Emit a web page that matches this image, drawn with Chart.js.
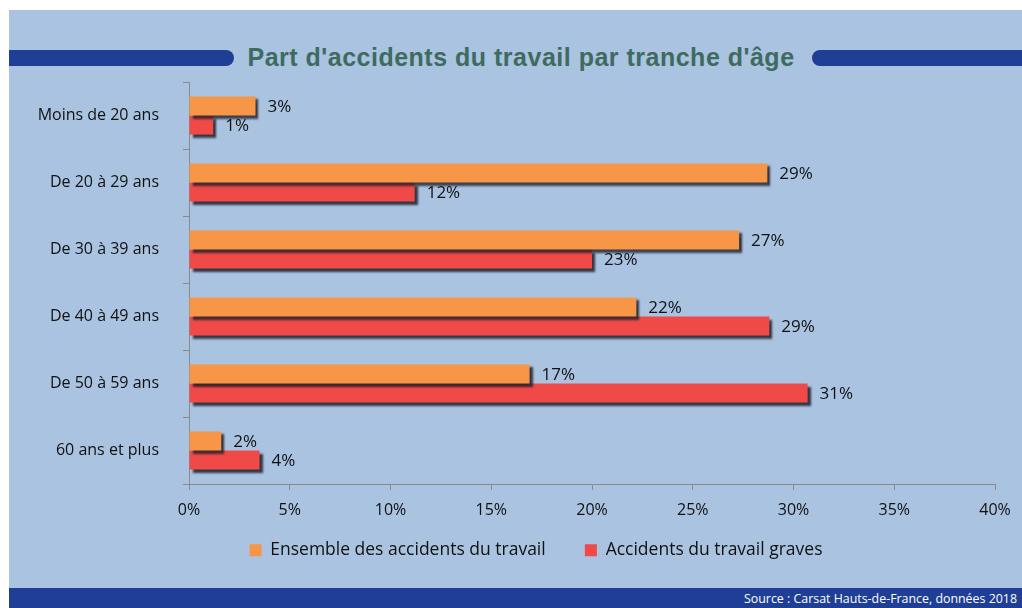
<!DOCTYPE html>
<html lang="fr">
<head>
<meta charset="utf-8">
<title>Part d'accidents du travail par tranche d'âge</title>
<script src="https://cdn.jsdelivr.net/npm/chart.js@4/dist/chart.umd.min.js"></script>
<style>
  html, body { margin: 0; padding: 0; background: #fff; }
  body { width: 1022px; height: 608px; position: relative; overflow: hidden; font-family: "Open Sans", sans-serif; }
  .panel { position: absolute; left: 9px; top: 10px; right: 0; bottom: 0; background: #a9c3e1; }
  .pill { position: absolute; top: 50px; height: 16px; background: #1f3f96; }
  .pill.left { left: 9px; width: 225px; border-radius: 0 8px 8px 0; }
  .pill.right { left: 812px; right: 0; border-radius: 8px 0 0 8px; }
  .title { position: absolute; top: 43px; left: 236px; width: 570px; text-align: center; letter-spacing: 0.5px;
           font-family: "Liberation Sans", Arial, sans-serif; font-weight: bold; font-size: 25px; color: #3f6b5f; }
  /* la zone déborde à droite (coupée par le body) pour centrer la légende comme l'original */
  .chart-box { position: absolute; left: 9px; top: 75px; width: 1054px; height: 513px; }
  .footer { position: absolute; left: 9px; right: 0; top: 588px; height: 20px; background: #1f3f96;
            color: #fff; font-size: 12.4px; text-align: right; line-height: 21px; padding-right: 5px; box-sizing: border-box; }
</style>
</head>
<body>
<div class="panel"></div>
<div class="pill left"></div>
<div class="pill right"></div>
<div class="title">Part d'accidents du travail par tranche d'âge</div>
<div class="chart-box"><canvas id="chart"></canvas></div>
<div class="footer">Source : Carsat Hauts-de-France, données 2018</div>

<script>
// Données
var ageGroups = ['Moins de 20 ans', 'De 20 à 29 ans', 'De 30 à 39 ans', 'De 40 à 49 ans', 'De 50 à 59 ans', '60 ans et plus'];
var ensembleValues = [3.3, 28.7, 27.3, 22.2, 16.9, 1.6];
var gravesValues = [1.2, 11.2, 20.0, 28.8, 30.7, 3.5];
var ensembleLabels = ['3%', '29%', '27%', '22%', '17%', '2%'];
var gravesLabels = ['1%', '12%', '23%', '29%', '31%', '4%'];
var seriesNames = ['Ensemble des accidents du travail', 'Accidents du travail graves'];
var xTicks = [0, 5, 10, 15, 20, 25, 30, 35, 40];

var FONT = '"Open Sans", sans-serif';

// Ombre portée des barres
var barShadow = {
  id: 'barShadow',
  beforeDatasetsDraw: function (chart) {
    var ctx = chart.ctx;
    ctx.save();
    ctx.shadowColor = 'rgba(30,30,40,0.85)';
    ctx.shadowOffsetX = 3;
    ctx.shadowOffsetY = 3;
    ctx.shadowBlur = 2;
  },
  afterDatasetsDraw: function (chart) {
    chart.ctx.restore();
  }
};

// Étiquettes de valeurs
var valueLabels = {
  id: 'valueLabels',
  afterDraw: function (chart) {
    var ctx = chart.ctx;
    var texts = [ensembleLabels, gravesLabels];
    ctx.save();
    ctx.font = '17px ' + FONT;
    ctx.fillStyle = '#111';
    ctx.textAlign = 'left';
    ctx.textBaseline = 'middle';
    chart.data.datasets.forEach(function (ds, i) {
      chart.getDatasetMeta(i).data.forEach(function (bar, j) {
        ctx.fillText(texts[i][j], bar.x + 12, bar.y + 1);
      });
    });
    ctx.restore();
  }
};

new Chart(document.getElementById('chart'), {
  type: 'bar',
  data: {
    labels: ageGroups,
    datasets: [
      { label: seriesNames[0], data: ensembleValues, backgroundColor: '#f79646', borderWidth: 0 },
      { label: seriesNames[1], data: gravesValues, backgroundColor: '#f04a48', borderWidth: 0 }
    ]
  },
  options: {
    indexAxis: 'y',
    responsive: true,
    maintainAspectRatio: false,
    animation: false,
    categoryPercentage: 0.57,
    barPercentage: 1.0,
    layout: { padding: { top: 7, right: 0, bottom: 19, left: 0 } },
    plugins: {
      legend: {
        position: 'bottom',
        labels: {
          font: { family: FONT, size: 17.5 }, color: '#111', boxWidth: 12, boxHeight: 12, padding: 21,
          generateLabels: function (chart) {
            var items = Chart.defaults.plugins.legend.labels.generateLabels(chart);
            items[0].text += '    ';
            return items;
          }
        }
      },
      tooltip: { enabled: false }
    },
    scales: {
      x: {
        min: 0,
        max: 40,
        afterBuildTicks: function (scale) {
          scale.ticks = xTicks.map(function (v) { return { value: v }; });
        },
        afterFit: function (scale) { scale.height = 36.5; },
        grid: { drawOnChartArea: false, drawTicks: true, tickLength: 6, color: '#8a8a8a' },
        border: { color: '#8a8a8a' },
        ticks: { font: { family: FONT, size: 16 }, color: '#111', padding: 11,
                 callback: function (v) { return v + '%'; } }
      },
      y: {
        afterFit: function (scale) {
          scale.width = 180;
          scale.paddingTop = 0;
          scale.paddingBottom = 0;
        },
        grid: { offset: true, drawOnChartArea: false, drawTicks: true, tickLength: 6, color: '#8a8a8a' },
        border: { color: '#8a8a8a' },
        ticks: { font: { family: FONT, size: 16 }, color: '#111', padding: 24 }
      },
      // marge droite vide (hors cadre)
      margeDroite: {
        type: 'linear',
        position: 'right',
        grid: { display: false },
        border: { display: false },
        ticks: { display: false },
        afterFit: function (scale) { scale.width = 68; }
      }
    }
  },
  plugins: [barShadow, valueLabels]
});
</script>
</body>
</html>
